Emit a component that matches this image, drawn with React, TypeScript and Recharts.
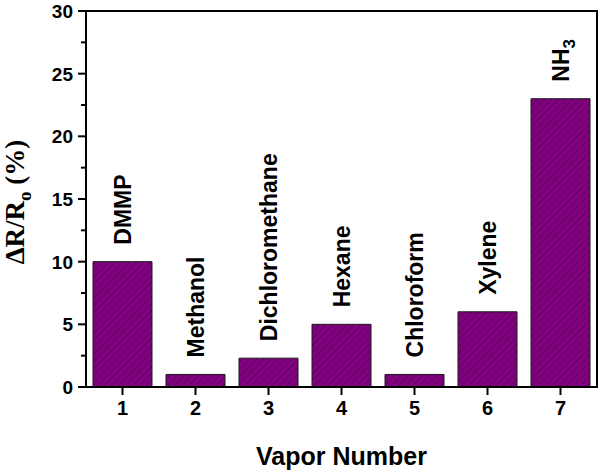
import React from "react";
import { BarChart, Bar, XAxis, YAxis, LabelList } from "recharts";

const vaporNumbers = ["1", "2", "3", "4", "5", "6", "7"];
const responses = [10, 1, 2.3, 5, 1, 6, 23];
const vaporNames = ["DMMP", "Methanol", "Dichloromethane", "Hexane", "Chloroform", "Xylene", "NH3"];
const yTicks = [0, 2.5, 5, 7.5, 10, 12.5, 15, 17.5, 20, 22.5, 25, 27.5, 30];

const data = vaporNumbers.map((v, i) => ({ vapor: v, response: responses[i], name: vaporNames[i] }));

const SANS = "'Liberation Sans', Arial, sans-serif";
const SERIF = "'Liberation Serif', 'Times New Roman', serif";

const W = 600;
const H = 473;
const MARGIN = { top: 11, right: 3, left: 0, bottom: 0 };
const Y_AXIS_W = 86;
const X_AXIS_H = 86;

// tick size + margin used on the y axis
const Y_TICK = 8;
const Y_GAP = 6;

function YTick(props: any) {
    const { x, y, payload } = props;
    const ax = Number(x) + Y_TICK + Y_GAP;
    const major = payload.value % 5 === 0;
    return (
        <g>
            <line x1={ax - (major ? 8 : 5)} x2={ax} y1={y} y2={y} stroke="#000" strokeWidth={2} />
            {major && (
                <text x={ax - 13} y={y} dy="0.36em" textAnchor="end" fontFamily={SANS} fontWeight="bold" fontSize={19} fill="#000">
                    {payload.value}
                </text>
            )}
        </g>
    );
}

function BarName(props: any) {
    const { x, y, width, value } = props;
    const bx = Number(x) + Number(width) / 2 + 8;
    const by = Number(y) - 17;
    return (
        <text transform={`translate(${bx},${by}) rotate(-90)`} fontFamily={SANS} fontWeight="bold" fontSize={23} fill="#000">
            {value === "NH3" ? (
                <>
                    NH<tspan fontSize={17} dy={6}>3</tspan>
                </>
            ) : (
                value
            )}
        </text>
    );
}

function YTitle(props: any) {
    const vb = props.viewBox || {};
    const tx = 24;
    const cy = vb.y + vb.height / 2 + 3;
    return (
        <text x={tx} y={cy} transform={`rotate(-90, ${tx}, ${cy})`} textAnchor="middle" fontFamily={SERIF} fontWeight="bold" fontSize={27} fill="#000">
            ΔR/R<tspan fontSize={19} dy={7}>o</tspan>
            <tspan dy={-7}> (%)</tspan>
        </text>
    );
}

export default function App() {
    const plotLeft = MARGIN.left + Y_AXIS_W;
    const plotRight = W - MARGIN.right;
    const plotBottom = H - MARGIN.bottom - X_AXIS_H;
    return (
        <div style={{ position: "absolute", left: 0, top: 0, width: W, height: H, background: "#fff" }}>
            <BarChart width={W} height={H} data={data} margin={MARGIN}>
                <defs>
                    <pattern id="hatch" patternUnits="userSpaceOnUse" width="7" height="7">
                        <rect width="7" height="7" fill="#800080" />
                        <path d="M0,7 L7,0 M-1,1 L1,-1 M6,8 L8,6" stroke="#3a0a3a" strokeWidth={0.7} />
                    </pattern>
                </defs>
                <XAxis
                    dataKey="vapor"
                    height={X_AXIS_H}
                    tickSize={8}
                    tickMargin={6}
                    axisLine={{ stroke: "#000", strokeWidth: 2 }}
                    tickLine={{ stroke: "#000", strokeWidth: 2 }}
                    tick={{ fill: "#000", fontFamily: SANS, fontWeight: "bold", fontSize: 20 }}
                    label={{
                        value: "Vapor Number",
                        position: "insideBottom",
                        offset: 8,
                        style: { fill: "#000", fontFamily: SANS, fontWeight: "bold", fontSize: 25 },
                    }}
                />
                <YAxis
                    width={Y_AXIS_W}
                    domain={[0, 30]}
                    ticks={yTicks}
                    interval={0}
                    tickSize={Y_TICK}
                    tickMargin={Y_GAP}
                    tickLine={false}
                    axisLine={{ stroke: "#000", strokeWidth: 2 }}
                    tick={<YTick />}
                    label={{ content: (p: any) => <YTitle {...p} /> }}
                />
                <Bar dataKey="response" barSize={59} fill="url(#hatch)" stroke="#1a1a1a" strokeWidth={1} isAnimationActive={false}>
                    <LabelList dataKey="name" content={<BarName />} />
                </Bar>
            </BarChart>
            {/* top and right edges of the plot box */}
            <div
                style={{
                    position: "absolute",
                    left: plotLeft,
                    top: MARGIN.top - 1,
                    width: plotRight - plotLeft + 1,
                    height: plotBottom - MARGIN.top + 2,
                    borderTop: "2px solid #000",
                    borderRight: "2px solid #000",
                    boxSizing: "border-box",
                    pointerEvents: "none",
                }}
            />
        </div>
    );
}
